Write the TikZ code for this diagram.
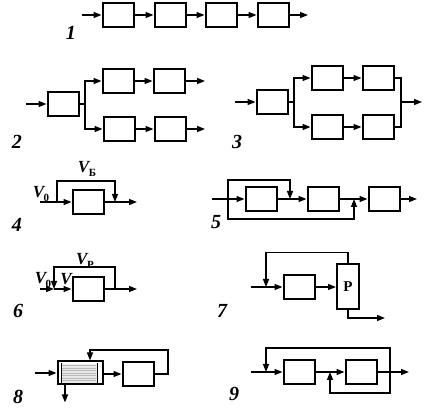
\documentclass[tikz,border=0pt]{standalone}
\usepackage{fontspec}
\setmainfont{Liberation Serif}
\usetikzlibrary{arrows.meta,positioning}
\tikzset{
  blk/.style={draw, line width=2pt, minimum width=31pt, minimum height=24pt, inner sep=0pt},
  conn/.style={line width=1.4pt},
  arr/.style={conn, -{Triangle[length=8pt,width=6pt]}},
  num/.style={font=\fontsize{20}{20}\selectfont\bfseries\itshape, inner sep=0pt},
  vlab/.style={font=\fontsize{17}{17}\selectfont\bfseries\itshape, inner sep=0pt},
}
\newcommand{\Vlab}[1]{V\kern-0.5pt\raisebox{-0.45ex}{\fontsize{11}{11}\selectfont\upshape #1}}
\begin{document}
\begin{tikzpicture}[x=1pt,y=-1pt]
    \useasboundingbox (0,0) rectangle (424,409);
    \node[blk] (b11) at (118,15) {};
    \node[blk] (b12) at (170,15) {};
    \node[blk] (b13) at (221,15) {};
    \node[blk] (b14) at (273,15) {};
    \coordinate (in1) at (82,15);
    \coordinate (out1) at (308,15);
    \draw[arr] (in1) -- (b11.west);
    \draw[arr] (b11) -- (b12);
    \draw[arr] (b12) -- (b13);
    \draw[arr] (b13) -- (b14);
    \draw[arr] (b14) -- (out1);
    \node[num] (n1) at (71,33) {1};

    \node[blk] (b21) at (63,104) {};
    \node[blk] (b22) at (118,81) {};
    \node[blk] (b23) at (169,81) {};
    \node[blk] (b24) at (119,129) {};
    \node[blk] (b25) at (170,129) {};
    \coordinate (in2) at (26,104);
    \coordinate (s2) at (85,104);
    \coordinate (o2a) at (205,81);
    \coordinate (o2b) at (205,129);
    \draw[arr] (in2) -- (b21.west);
    \draw[conn] (b21.east) -- (s2);
    \draw[arr] (s2) |- (b22.west);
    \draw[arr] (s2) |- (b24.west);
    \draw[arr] (b22) -- (b23);
    \draw[arr] (b24) -- (b25);
    \draw[arr] (b23) -- (o2a);
    \draw[arr] (b25) -- (o2b);
    \node[num] (n2) at (17,142) {2};

    \node[blk] (b31) at (272,102) {};
    \node[blk] (b32) at (327,78) {};
    \node[blk] (b33) at (378,78) {};
    \node[blk] (b34) at (327,127) {};
    \node[blk] (b35) at (378,127) {};
    \coordinate (in3) at (235,102);
    \coordinate (s3) at (294,102);
    \coordinate (m3) at (401,102);
    \coordinate (out3) at (422,102);
    \draw[arr] (in3) -- (b31.west);
    \draw[conn] (b31.east) -- (s3);
    \draw[arr] (s3) |- (b32.west);
    \draw[arr] (s3) |- (b34.west);
    \draw[arr] (b32) -- (b33);
    \draw[arr] (b34) -- (b35);
    \draw[conn] (b33.east) -| (m3);
    \draw[conn] (b35.east) -| (m3);
    \draw[arr] (m3) -- (out3);
    \node[num] (n3) at (237,142) {3};

    \node[blk] (b41) at (88,202) {};
    \coordinate (in4) at (40,202);
    \coordinate (j4) at (57,202);
    \coordinate (k4) at (115,202);
    \coordinate (out4) at (137,202);
    \draw[arr] (in4) -- (b41.west);
    \draw[arr] (j4) -- ++(0,-21) -| (k4);
    \draw[arr] (b41.east) -- (out4);
    \node[vlab] (v40) at (41,194) {\Vlab{0}};
    \node[vlab] (v4b) at (87,169) {\Vlab{Б}};
    \node[num] (n4) at (17,225) {4};

    \node[blk] (b51) at (261,199) {};
    \node[blk] (b52) at (323,199) {};
    \node[blk] (b53) at (384,199) {};
    \coordinate (in5) at (212,199);
    \coordinate (j5) at (228,199);
    \coordinate (k5a) at (290,199);
    \coordinate (k5b) at (354,199);
    \coordinate (out5) at (417,199);
    \draw[arr] (in5) -- (b51.west);
    \draw[arr] (j5) -- ++(0,-19) -| (k5a);
    \draw[arr] (j5) -- ++(0,20) -| (k5b);
    \draw[arr] (b51) -- (b52);
    \draw[arr] (b52) -- (b53);
    \draw[arr] (b53) -- (out5);
    \node[num] (n5) at (216,222) {5};

    \node[blk] (b61) at (88,289) {};
    \coordinate (in6) at (40,289);
    \coordinate (j6) at (54,289);
    \coordinate (k6) at (115,289);
    \coordinate (out6) at (137,289);
    \draw[arr] (in6) -- (j6);
    \draw[arr] (j6) -- (b61.west);
    \draw[arr] (k6) -- ++(0,-22) -| (j6);
    \draw[arr] (b61.east) -- (out6);
    \node[vlab] (v60) at (43,280) {\Vlab{0}};
    \node[vlab] (v6) at (66,279) {V};
    \node[vlab] (v6p) at (85,261) {\Vlab{Р}};
    \node[num] (n6) at (18,311) {6};

    \node[blk] (b71) at (299,287) {};
    \node[blk, minimum width=22pt, minimum height=45pt, font=\fontsize{15}{15}\selectfont\bfseries] (p7) at (348,287) {Р};
    \coordinate (in7) at (251,287);
    \coordinate (j7) at (266,287);
    \coordinate (out7) at (385,318);
    \draw[arr] (in7) -- (b71.west);
    \draw[arr] (b71) -- (p7);
    \draw[arr] (p7.north) -- ++(0,-11) -| (j7);
    \draw[arr] (p7.south) |- (out7);
    \node[num] (n7) at (222,311) {7};

    \node[blk, minimum width=45pt, minimum height=23pt] (f8) at (80,373) {};
    \fill[gray!18] (61,364) rectangle (97,383);
    \foreach \y in {365.5,368,...,382} {
        \draw[gray!55, line width=0.5pt] (62,\y) -- (96,\y);
    }
    \draw[line width=0.8pt] (61,363) -- (61,384) (97,363) -- (97,384);
    \node[blk] (b81) at (138,374) {};
    \coordinate (in8) at (35,373);
    \coordinate (c8) at (168,350);
    \draw[arr] (in8) -- (f8.west);
    \draw[arr] (f8.east |- b81.west) -- (b81.west);
    \draw[arr] (b81.east) -| (c8) -| ([xshift=10pt]f8.north);
    \draw[arr] ([xshift=-15pt]f8.south) -- ++(0,17);
    \node[num] (n8) at (18,397) {8};

    \node[blk] (b91) at (299,372) {};
    \node[blk] (b92) at (361,372) {};
    \coordinate (in9) at (251,372);
    \coordinate (ja9) at (266,372);
    \coordinate (jb9) at (330,372);
    \coordinate (k9) at (390,372);
    \coordinate (out9) at (409,372);
    \draw[arr] (in9) -- (b91.west);
    \draw[arr] (b91) -- (b92);
    \draw[arr] (b92) -- (out9);
    \draw[arr] (k9) -- ++(0,-24) -| (ja9);
    \draw[arr] (k9) -- ++(0,21) -| (jb9);
    \node[num] (n9) at (234,394) {9};
\end{tikzpicture}
\end{document}
